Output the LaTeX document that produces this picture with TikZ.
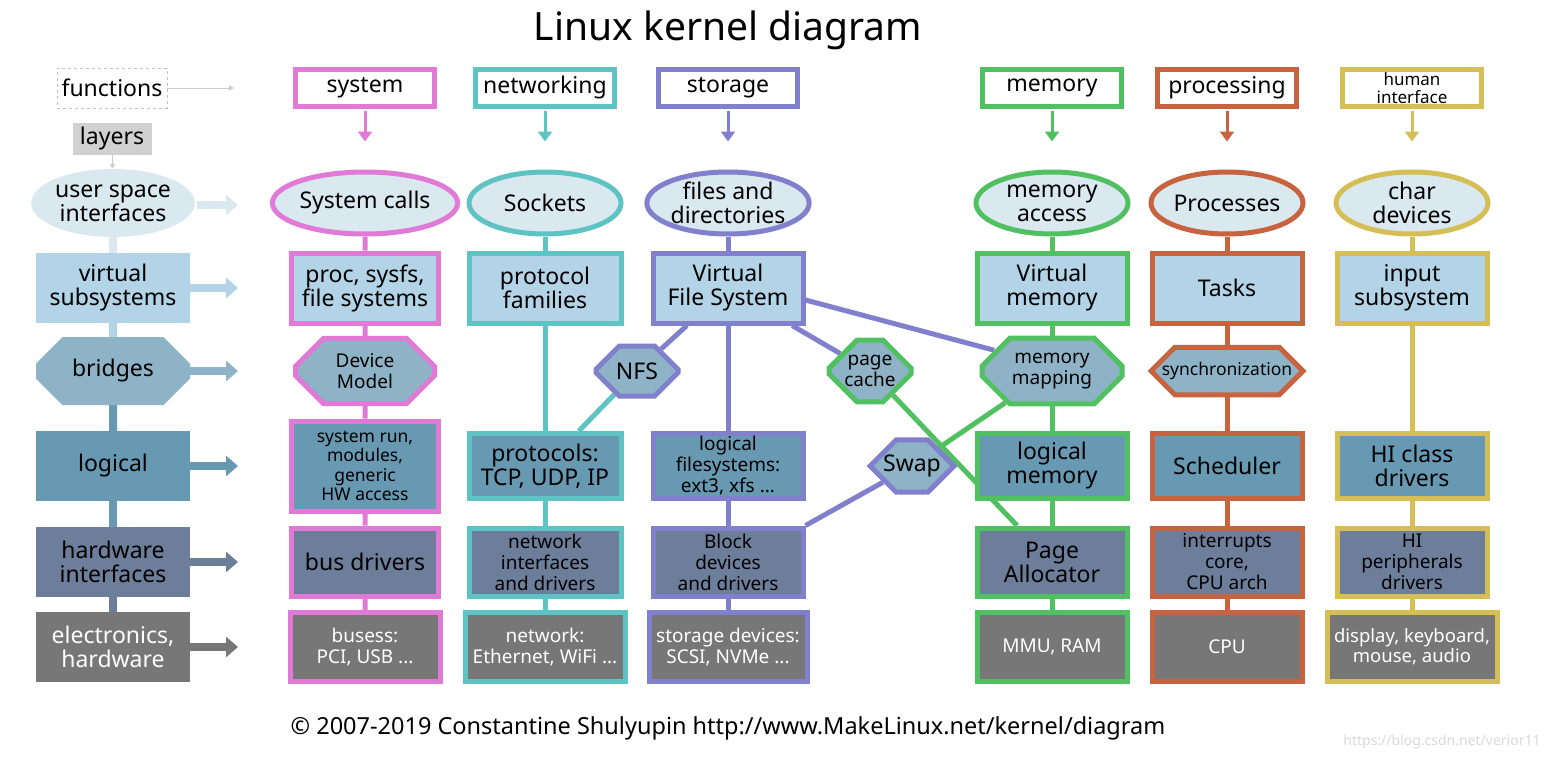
\documentclass[tikz,border=0pt]{standalone}
\usepackage{fontspec}
\setmainfont{Noto Sans}
\usetikzlibrary{shapes.geometric,shapes.misc,backgrounds,arrows.meta}
\definecolor{cSys}{HTML}{E07AD6}
\definecolor{cNet}{HTML}{5EC3C3}
\definecolor{cSto}{HTML}{8080CC}
\definecolor{cMem}{HTML}{50C060}
\definecolor{cPro}{HTML}{C8633F}
\definecolor{cHum}{HTML}{D4BE55}
\definecolor{fUsr}{HTML}{DAE8EF}
\definecolor{fVir}{HTML}{B2D4E6}
\definecolor{fBri}{HTML}{8FB3C6}
\definecolor{fLog}{HTML}{6899B2}
\definecolor{fHw}{HTML}{6D7E9B}
\definecolor{fEl}{HTML}{777777}
\tikzset{
 big/.style={font=\fontsize{23}{24}\selectfont},
 mid/.style={font=\fontsize{19}{21}\selectfont},
 sml/.style={font=\fontsize{17.5}{19.5}\selectfont},
 box/.style={rectangle,line width=5pt,align=center,inner sep=1pt},
 fn/.style={box,fill=white,minimum width=139pt,minimum height=36pt,big},
 usr/.style={ellipse,line width=5pt,fill=fUsr,minimum width=152pt,minimum height=62pt,align=center,inner sep=0pt,big},
 vir/.style={box,fill=fVir,minimum height=70pt,big},
 oct/.style={chamfered rectangle,chamfered rectangle xsep=14pt,chamfered rectangle ysep=14pt,line width=5pt,fill=fBri,minimum height=50pt,align=center,inner sep=1pt,mid},
 lg/.style={box,fill=fLog,minimum height=65pt,big},
 hw/.style={box,fill=fHw,minimum height=68pt,big},
 el/.style={box,fill=fEl,minimum height=69pt,text=white,mid},
 left/.style={rectangle,minimum width=154pt,align=center,inner sep=1pt,big},
 la/.style={line width=8pt,-{Triangle[length=12pt,width=20pt]}},
 fa/.style={line width=3pt,-{Triangle[length=10pt,width=14pt]}},
 cl/.style={line width=5pt},
}
\begin{document}
\begin{tikzpicture}[x=1pt,y=-1pt]
\useasboundingbox (0,0) rectangle (1550,760);
\node[font=\fontsize{39}{41}\selectfont] (title) at (728,30) {Linux kernel diagram};
\node[font=\fontsize{23.5}{25}\selectfont] (foot) at (728,728) {© 2007-2019 Constantine Shulyupin http://www.MakeLinux.net/kernel/diagram};
\node[font=\fontsize{14}{16}\selectfont,text=black!15] (wm) at (1442,742) {https://blog.csdn.net/verior11};

% left column
\node[draw=black!25,dashed,minimum width=110pt,minimum height=40pt,big] (lfn) at (112,88) {functions};
\node[fill=black!18,minimum width=79pt,minimum height=32pt,big] (llay) at (112,139) {layers};
\node[ellipse,fill=fUsr,minimum width=154pt,minimum height=68pt,align=center,inner sep=0pt,big] (lusr) at (113,203) {user space\\interfaces};
\node[left,fill=fVir,minimum height=70pt] (lvir) at (113,288) {virtual\\subsystems};
\node[chamfered rectangle,chamfered rectangle xsep=25pt,chamfered rectangle ysep=14pt,fill=fBri,minimum width=154pt,minimum height=68pt,inner sep=1pt,big] (lbri) at (113,371) {bridges};
\node[left,fill=fLog,minimum height=70pt] (llog) at (113,466) {logical};
\node[left,fill=fHw,minimum height=70pt] (lhw) at (113,562) {hardware\\interfaces};
\node[left,fill=fEl,minimum height=70pt,text=white] (lel) at (113,647) {electronics,\\hardware};
\coordinate (afn) at (234,88);
\coordinate (ausr) at (238,205);
\coordinate (avir) at (238,288);
\coordinate (abri) at (238,371);
\coordinate (alog) at (238,466);
\coordinate (ahw) at (238,562);
\coordinate (ael) at (238,647);
\draw[black!20,line width=1pt,-{Triangle[length=5pt,width=5pt]}] (lfn) -- (afn);
\draw[black!20,line width=1pt,-{Triangle[length=5pt,width=5pt]}] (llay) -- (lusr);
\draw[la,fUsr] (lusr.east) ++(2,2) -- (ausr);
\draw[la,fVir] (lvir.east) -- (avir);
\draw[la,fBri] (lbri.east) -- (abri);
\draw[la,fLog] (llog.east) -- (alog);
\draw[la,fHw] (lhw.east) -- (ahw);
\draw[la,fEl] (lel.east) -- (ael);
\begin{scope}[on background layer]
\draw[line width=8pt,fUsr] (lusr) -- (lvir);
\draw[line width=8pt,fVir] (lvir) -- (lbri);
\draw[line width=8pt,fLog] (lbri) -- (llog);
\draw[line width=8pt,fLog] (llog) -- (lhw);
\draw[line width=8pt,fHw] (lhw) -- (lel);
\end{scope}

% system
\node[fn,draw=cSys] (fsys) at (365,88) {system};
\node[usr,draw=cSys] (usys) at (365,203) {System calls};
\node[vir,draw=cSys,minimum width=147pt] (vsys) at (365,288) {proc, sysfs,\\file systems};
\node[oct,draw=cSys,minimum width=139pt] (bsys) at (365,371) {Device\\Model};
\node[box,fill=fLog,draw=cSys,minimum width=147pt,minimum height=90pt,sml] (lsys) at (365,466) {system run,\\modules,\\generic\\HW access};
\node[hw,draw=cSys,minimum width=147pt] (hsys) at (365,562) {bus drivers};
\node[el,draw=cSys,minimum width=150pt] (esys) at (365,647) {busess:\\PCI, USB ...};

% networking
\node[fn,draw=cNet] (fnet) at (545,88) {networking};
\node[usr,draw=cNet] (unet) at (545,203) {Sockets};
\node[vir,draw=cNet,minimum width=152pt] (vnet) at (545,288) {protocol\\families};
\node[lg,draw=cNet,minimum width=152pt] (lnet) at (545,466) {protocols:\\TCP, UDP, IP};
\node[hw,draw=cNet,minimum width=152pt,mid] (hnet) at (545,562) {network\\interfaces\\and drivers};
\node[el,draw=cNet,minimum width=160pt] (enet) at (545,647) {network:\\Ethernet, WiFi ...};

% storage
\node[fn,draw=cSto] (fsto) at (728,88) {storage};
\node[usr,draw=cSto] (usto) at (728,203) {files and\\directories};
\node[vir,draw=cSto,minimum width=150pt] (vsto) at (728,288) {Virtual\\File System};
\node[oct,draw=cSto,minimum width=82pt,big] (nfs) at (637,371) {NFS};
\node[lg,draw=cSto,minimum width=150pt,mid] (lsto) at (728,466) {logical\\filesystems:\\ext3, xfs ...};
\node[hw,draw=cSto,minimum width=150pt,mid] (hsto) at (728,562) {Block\\devices\\and drivers};
\node[el,draw=cSto,minimum width=158pt] (esto) at (728,647) {storage devices:\\SCSI, NVMe ...};
\node[oct,draw=cMem,minimum width=82pt] (pc) at (870,371) {page\\cache};
\node[oct,draw=cSto,minimum width=82pt,minimum height=52pt,big] (swap) at (912,466) {Swap};

% memory
\node[fn,draw=cMem] (fmem) at (1052,88) {memory};
\node[usr,draw=cMem] (umem) at (1052,203) {memory\\access};
\node[vir,draw=cMem,minimum width=150pt] (vmem) at (1052,288) {Virtual\\memory};
\node[oct,draw=cMem,minimum width=140pt,minimum height=45pt] (bmem) at (1052,371) {memory\\mapping};
\node[lg,draw=cMem,minimum width=150pt] (lmem) at (1052,466) {logical\\memory};
\node[hw,draw=cMem,minimum width=150pt] (hmem) at (1052,562) {Page\\Allocator};
\node[el,draw=cMem,minimum width=150pt] (emem) at (1052,647) {MMU, RAM};

% processing
\node[fn,draw=cPro] (fpro) at (1227,88) {processing};
\node[usr,draw=cPro] (upro) at (1227,203) {Processes};
\node[vir,draw=cPro,minimum width=150pt] (vpro) at (1227,288) {Tasks};
\node[oct,draw=cPro,minimum width=145pt,minimum height=45pt,sml] (bpro) at (1227,371) {synchronization};
\node[lg,draw=cPro,minimum width=150pt] (lpro) at (1227,466) {Scheduler};
\node[hw,draw=cPro,minimum width=150pt,mid] (hpro) at (1227,562) {interrupts\\core,\\CPU arch};
\node[el,draw=cPro,minimum width=150pt] (epro) at (1227,647) {CPU};

% human
\node[fn,draw=cHum,font=\fontsize{17}{18}\selectfont] (fhum) at (1412,88) {human\\interface};
\node[usr,draw=cHum] (uhum) at (1412,203) {char\\devices};
\node[vir,draw=cHum,minimum width=150pt] (vhum) at (1412,288) {input\\subsystem};
\node[lg,draw=cHum,minimum width=150pt] (lhum) at (1412,466) {HI class\\drivers};
\node[hw,draw=cHum,minimum width=150pt,mid] (hhum) at (1412,562) {HI\\peripherals\\drivers};
\node[el,draw=cHum,minimum width=170pt,font=\fontsize{18.5}{20}\selectfont] (ehum) at (1412,647) {display, keyboard,\\mouse, audio};

% function arrows
\foreach \f/\u/\c in {fsys/usys/cSys,fnet/unet/cNet,fsto/usto/cSto,fmem/umem/cMem,fpro/upro/cPro,fhum/uhum/cHum}{
  \draw[fa,\c] (\f.south) ++(0,2) -- ([yshift=28pt]\u.north);
}

\begin{scope}[on background layer]
\draw[cl,cSys] (usys) -- (vsys) -- (bsys) -- (lsys) -- (hsys) -- (esys);
\draw[cl,cNet] (unet) -- (vnet) -- (lnet) -- (hnet) -- (enet);
\draw[cl,cSto] (usto) -- (vsto) -- (lsto) -- (hsto) -- (esto);
\draw[cl,cMem] (umem) -- (vmem) -- (bmem) -- (lmem) -- (hmem) -- (emem);
\draw[cl,cPro] (upro) -- (vpro) -- (bpro) -- (lpro) -- (hpro) -- (epro);
\draw[cl,cHum] (uhum) -- (vhum) -- (lhum) -- (hhum) -- (ehum);
\draw[cl,cSto] (vsto) -- (nfs);
\draw[cl,cNet] (nfs) -- (lnet);
\draw[cl,cSto] (vsto) -- (pc);
\draw[cl,cSto] (vsto.east) ++(0,12) -- (bmem.north west);
\draw[cl,cMem] (pc) -- ([xshift=-35pt]hmem.north);
\draw[cl,cMem] (bmem) -- (swap);
\draw[cl,cSto] (swap) -- (hsto.north east);
\end{scope}
\end{tikzpicture}
\end{document}
